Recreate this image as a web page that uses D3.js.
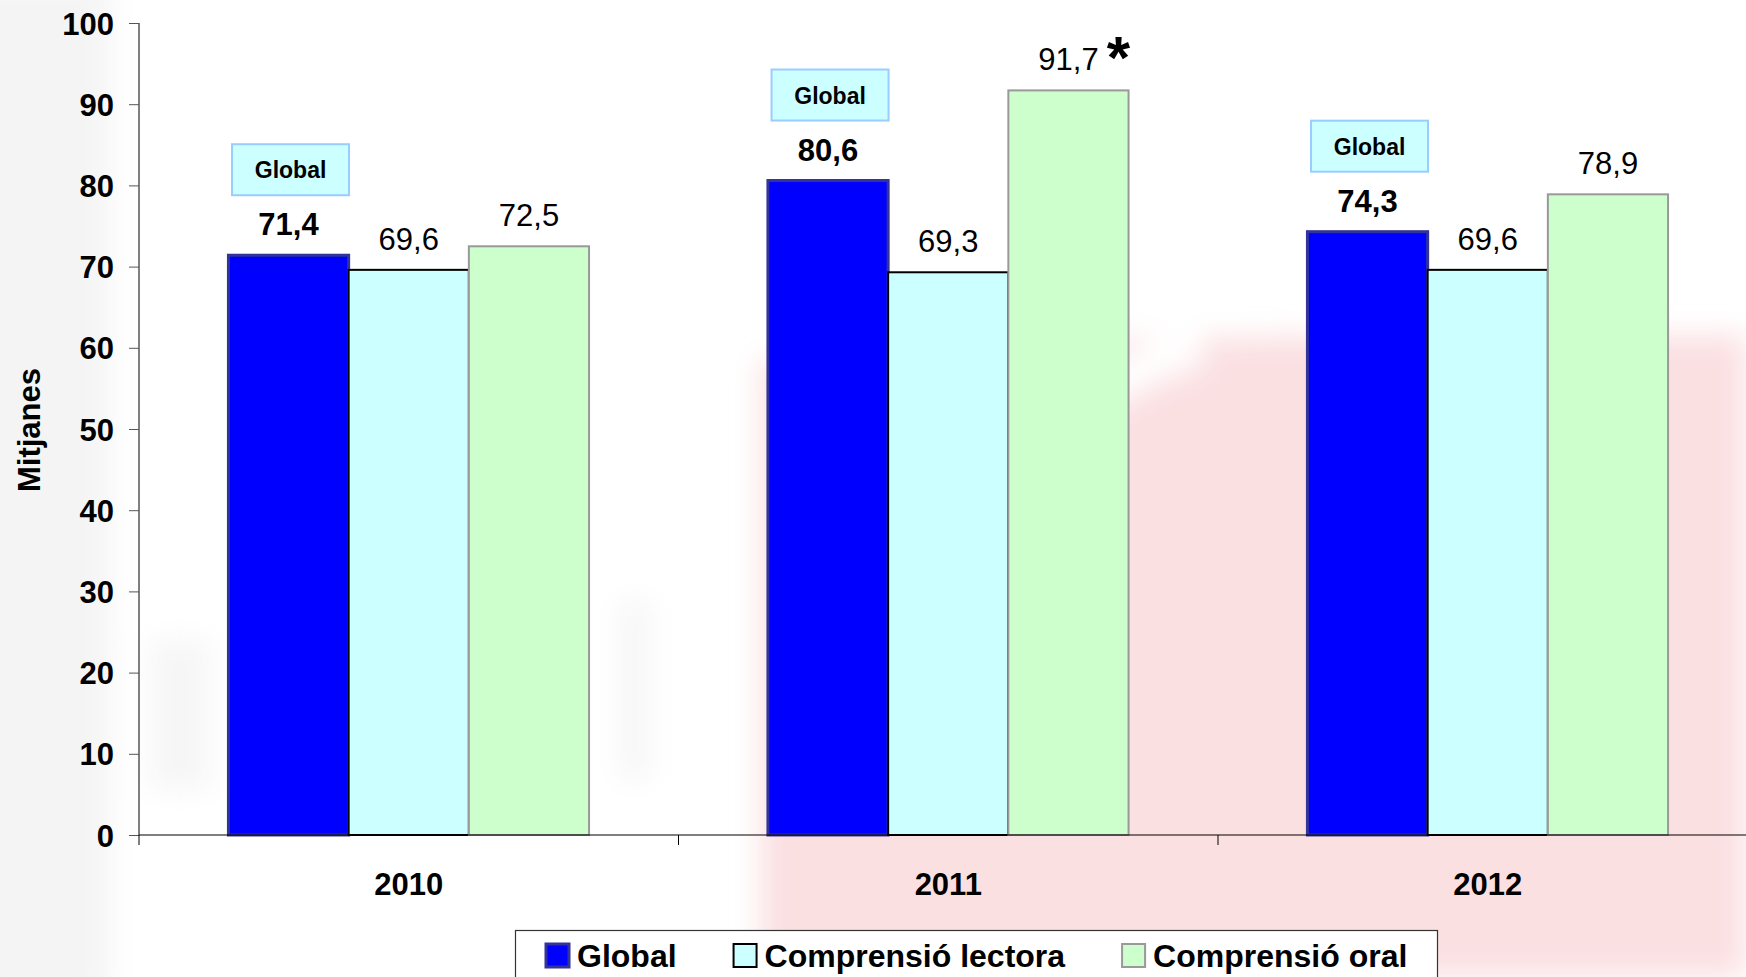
<!DOCTYPE html>
<html>
<head>
<meta charset="utf-8">
<script src="https://cdn.jsdelivr.net/npm/d3@7"></script>
<style>
  body { margin: 0; background: #fff; }
  svg { display: block; font-family: "Liberation Sans", Arial, sans-serif; }
</style>
</head>
<body>
<svg id="chart"></svg>
<script>
// data
const years = ["2010", "2011", "2012"];
const series = ["Global", "Comprensió lectora", "Comprensió oral"];
const globalValues = [71.4, 80.6, 74.3];
const lectoraValues = [69.6, 69.3, 69.6];
const oralValues = [72.5, 91.7, 78.9];
const yTicks = [0, 10, 20, 30, 40, 50, 60, 70, 80, 90, 100];
const starred = ["2011|Comprensió oral"];

const width = 1746;
const height = 977;
const fills = {"Global": "#0000ff", "Comprensió lectora": "#ccffff", "Comprensió oral": "#ccffcc"};
const strokes = {"Global": "#333399", "Comprensió lectora": "#000000", "Comprensió oral": "#999999"};
const strokeW = {"Global": 3, "Comprensió lectora": 2, "Comprensió oral": 2};

const svg = d3.select("#chart").attr("width", width).attr("height", height);

// faint watermark in the background (blurred shapes only)
const defs = svg.append("defs");
defs.append("filter").attr("id", "blur").attr("x", "-20%").attr("y", "-20%").attr("width", "140%").attr("height", "140%")
  .append("feGaussianBlur").attr("stdDeviation", 14);
const wm = svg.append("g").attr("filter", "url(#blur)");
wm.append("rect").attr("x", -30).attr("y", -20).attr("width", 140).attr("height", 1020).attr("fill", "#f4f4f4");
wm.append("path")
  .attr("d", "M760,360 C980,335 1300,335 1746,335 L1746,977 L760,977 Z")
  .attr("fill", "#fbe0e2");
wm.append("path")
  .attr("d", "M975,560 C1020,450 1090,380 1200,345")
  .attr("fill", "none").attr("stroke", "#fff").attr("stroke-width", 38);
// faint grey blobs standing in for the blurred lettering
[[150, 640, 60, 150], [470, 620, 30, 160], [530, 620, 30, 160], [620, 600, 30, 180], [340, 640, 70, 130]]
  .forEach(b => wm.append("rect").attr("x", b[0]).attr("y", b[1]).attr("width", b[2]).attr("height", b[3]).attr("fill", "#f6f6f6"));

// scales
const y = d3.scaleLinear().domain([0, 100]).range([835, 23]);
const x0 = d3.scaleBand().domain(years).range([139, 139 + 3 * 539.5]);
const x1 = d3.scaleBand().domain(series).range([0, x0.bandwidth()]).paddingOuter(0.744);

const rows = years.map((yr, i) => ({
  year: yr,
  values: [
    {key: series[0], value: globalValues[i]},
    {key: series[1], value: lectoraValues[i]},
    {key: series[2], value: oralValues[i]}
  ]
}));

// bars
const groups = svg.selectAll(".group").data(rows).enter().append("g")
  .attr("class", "group")
  .attr("transform", d => `translate(${x0(d.year)},0)`);

groups.selectAll("rect").data(d => d.values.map(v => ({...v, year: d.year}))).enter().append("rect")
  .attr("x", d => x1(d.key))
  .attr("y", d => y(d.value))
  .attr("width", x1.bandwidth())
  .attr("height", d => y(0) - y(d.value))
  .attr("fill", d => fills[d.key])
  .attr("stroke", d => strokes[d.key])
  .attr("stroke-width", d => strokeW[d.key]);

// value labels
groups.selectAll(".val").data(d => d.values.map(v => ({...v, year: d.year}))).enter().append("text")
  .attr("class", "val")
  .attr("x", d => x1(d.key) + x1.bandwidth() / 2)
  .attr("y", d => y(d.value) - 20)
  .attr("text-anchor", "middle")
  .attr("font-size", 31)
  .attr("font-weight", d => d.key === "Global" ? "bold" : "normal")
  .text(d => d3.format(".1f")(d.value).replace(".", ","))
  .each(function(d) {
    if (starred.includes(d.year + "|" + d.key)) {
      const len = this.getComputedTextLength();
      d3.select(this.parentNode).append("text")
        .attr("x", x1(d.key) + x1.bandwidth() / 2 + len / 2 + 8)
        .attr("y", y(d.value) - 12)
        .attr("font-size", 60)
        .attr("font-weight", "bold")
        .text("*");
    }
  });

// "Global" tags above the global bars
const tags = groups.append("g")
  .attr("transform", d => `translate(${x1("Global") + x1.bandwidth() / 2 + 2},${y(d.values[0].value) - 60})`);
tags.append("rect")
  .attr("x", -58.5).attr("y", -51).attr("width", 117).attr("height", 51)
  .attr("fill", "#ccffff").attr("stroke", "#99ccff").attr("stroke-width", 2);
tags.append("text")
  .attr("y", -17).attr("text-anchor", "middle")
  .attr("font-size", 23).attr("font-weight", "bold")
  .text("Global");

// y axis
const yAxis = svg.append("g")
  .attr("transform", "translate(139,0)")
  .call(d3.axisLeft(y).tickValues(yTicks).tickSize(10).tickPadding(15).tickFormat(d3.format("d")));
yAxis.select(".domain").attr("stroke", "#000").attr("d", "M0,23V835");
yAxis.selectAll(".tick line").attr("stroke", "#555");
yAxis.selectAll("text").attr("font-size", 31).attr("font-weight", "bold").attr("fill", "#000")
  .attr("font-family", "'Liberation Sans', Arial, sans-serif").attr("dy", "0.36em");

// x axis
const xAxis = svg.append("g")
  .attr("transform", `translate(0,${y(0)})`)
  .call(d3.axisBottom(x0).tickSize(0).tickPadding(0));
xAxis.select(".domain").attr("stroke", "#000").attr("d", `M139,0H${width}`);
xAxis.selectAll("text").attr("font-size", 31).attr("font-weight", "bold").attr("fill", "#000")
  .attr("font-family", "'Liberation Sans', Arial, sans-serif").attr("dy", 0).attr("y", 60);
svg.append("g").selectAll("line").data(years).enter().append("line")
  .attr("x1", d => x0(d)).attr("x2", d => x0(d))
  .attr("y1", y(0)).attr("y2", y(0) + 10)
  .attr("stroke", "#000");

// y label
svg.append("text")
  .attr("transform", "translate(40,430) rotate(-90)")
  .attr("text-anchor", "middle")
  .attr("font-size", 31).attr("font-weight", "bold")
  .text("Mitjanes");

// legend
const legend = svg.append("g");
legend.append("rect")
  .attr("x", 515.5).attr("y", 930.5).attr("width", 922).attr("height", 80)
  .attr("fill", "#fff").attr("stroke", "#333").attr("stroke-width", 1.2);
let lx = 546;
series.forEach(s => {
  legend.append("rect")
    .attr("x", lx).attr("y", 944).attr("width", 23).attr("height", 23)
    .attr("fill", fills[s]).attr("stroke", strokes[s]).attr("stroke-width", strokeW[s]);
  const t = legend.append("text")
    .attr("x", lx + 31).attr("y", 967)
    .attr("font-size", 32).attr("font-weight", "bold")
    .text(s);
  lx += 31 + t.node().getComputedTextLength() + 57;
});
</script>
</body>
</html>
